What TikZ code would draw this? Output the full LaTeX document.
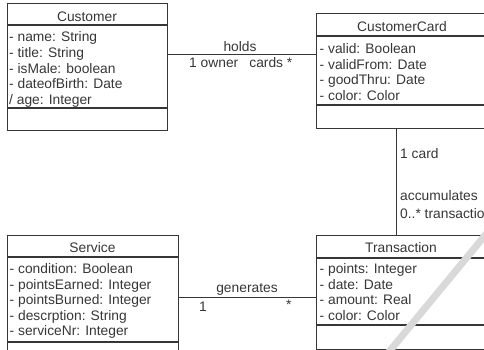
\documentclass[tikz,border=0pt]{standalone}
\usepackage{fontspec}
\setmainfont{Liberation Sans}
\usetikzlibrary{positioning,calc}
\definecolor{umlink}{HTML}{363636}

\begin{document}
\begin{tikzpicture}[x=1pt, y=-1pt,
  classbox/.style={rectangle, draw=umlink, line width=1.1pt, inner sep=0pt, anchor=north west},
  classname/.style={inner sep=0pt, font=\fontsize{13.8}{16}\selectfont, text=umlink},
  attr/.style={anchor=west, inner sep=0pt, text height=9.8pt, text depth=2.8pt, font=\fontsize{13.8}{16}\selectfont, text=umlink},
  divider/.style={draw=umlink, line width=1.1pt},
  assoc/.style={draw=umlink, line width=1pt}
]
  \useasboundingbox (0,0) rectangle (484,350);
  \clip (0,0) rectangle (484,350);

  % classes
  \node[classbox, minimum width=160, minimum height=127] (customer) at (7,3) {};
  \node[classbox, minimum width=172, minimum height=115] (card) at (316,13) {};
  \node[classbox, minimum width=171, minimum height=125] (service) at (7,235) {};
  \node[classbox, minimum width=172, minimum height=114] (transaction) at (316,235) {};

  \draw[divider] ($(customer.north west)+(0,22)$) -- ($(customer.north east)+(0,22)$);
  \draw[divider] ($(customer.north west)+(0,105)$) -- ($(customer.north east)+(0,105)$);
  \draw[divider] ($(card.north west)+(0,23)$) -- ($(card.north east)+(0,23)$);
  \draw[divider] ($(card.north west)+(0,92)$) -- ($(card.north east)+(0,92)$);
  \draw[divider] ($(service.north west)+(0,22)$) -- ($(service.north east)+(0,22)$);
  \draw[divider] ($(service.north west)+(0,107)$) -- ($(service.north east)+(0,107)$);
  \draw[divider] ($(transaction.north west)+(0,23)$) -- ($(transaction.north east)+(0,23)$);
  \draw[divider] ($(transaction.north west)+(0,90)$) -- ($(transaction.north east)+(0,90)$);

  \node[classname] (customername) at (87,16.5) {Customer};
  \node[classname] (cardname) at (402,27) {CustomerCard};
  \node[classname] (servicename) at (92.5,248) {Service};
  \node[classname] (transactionname) at (401,247.5) {Transaction};

  \foreach \t [count=\i] in {- name: String, - title: String, - isMale: boolean, - dateofBirth: Date, / age: Integer}
    \node[attr] (customer-a\i) at (9, 38+15.8*\i-15.8) {\t};
  \foreach \t [count=\i] in {- valid: Boolean, - validFrom: Date, - goodThru: Date, - color: Color}
    \node[attr] (card-a\i) at (319.5, 50+15.7*\i-15.7) {\t};
  \foreach \t [count=\i] in {- condition: Boolean, - pointsEarned: Integer, - pointsBurned: Integer, - descrption: String, - serviceNr: Integer}
    \node[attr] (service-a\i) at (9.5, 270+15.6*\i-15.6) {\t};
  \foreach \t [count=\i] in {- points: Integer, - date: Date, - amount: Real, - color: Color}
    \node[attr] (transaction-a\i) at (319.5, 270+15.6*\i-15.6) {\t};

  % associations
  \coordinate (holdsy) at (0,55);
  \coordinate (accx) at (396,0);
  \coordinate (geny) at (0,297);
  \draw[assoc] (customer.east |- holdsy) -- (card.west |- holdsy);
  \draw[assoc] (card.south -| accx) -- (transaction.north -| accx);
  \draw[assoc] (service.east |- geny) -- (transaction.west |- geny);

  \node[classname] (holds) at (240,47) {holds};
  \node[attr, anchor=west] (owner) at (189,64.5) {1 owner};
  \node[attr, anchor=east] (cards) at (292.5,64.5) {cards *};
  \node[attr] (onecard) at (400,155) {1 card};
  \node[attr] (accum) at (400,196.5) {accumulates};
  \node[attr] (trans) at (400,215) {0..* transactions};
  \node[classname] (generates) at (247,289) {generates};
  \node[attr] (genone) at (199,307.5) {1};
  \node[attr] (genstar) at (286,306) {*};

  % faint slash across the corner
  \draw[line width=7pt, black!15] (388,353) -- (487,233);
\end{tikzpicture}
\end{document}
